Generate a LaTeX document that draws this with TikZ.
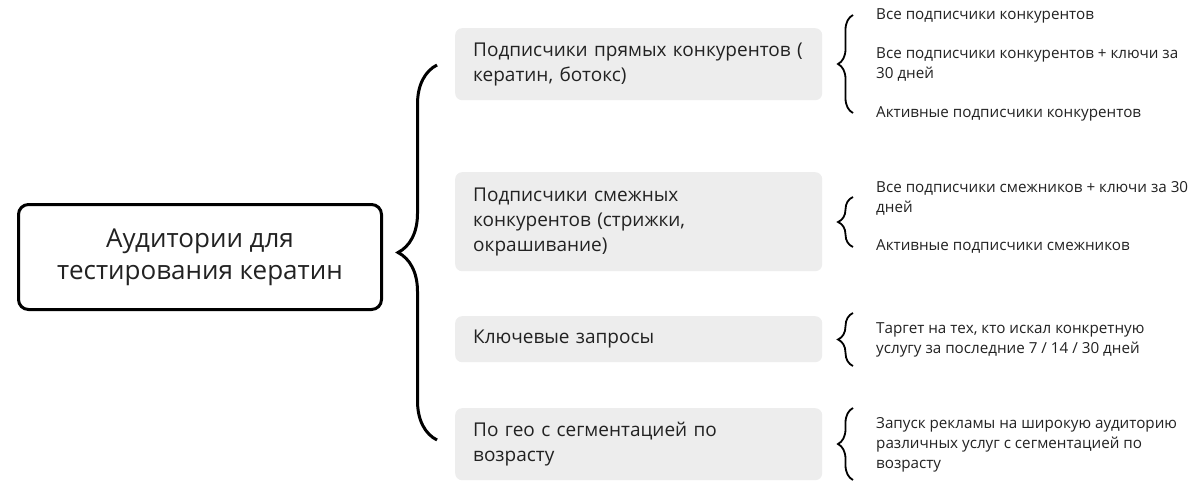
\documentclass[tikz,border=0pt]{standalone}
\usepackage{fontspec}
\setmainfont{Open Sans}
\usepackage{xcolor}
\usetikzlibrary{decorations.pathreplacing,positioning}
\definecolor{boxgray}{HTML}{EDEDED}
\definecolor{txtdark}{HTML}{222222}

\begin{document}
\begin{tikzpicture}[
  x=1pt,y=-1pt,
  main/.style={draw=black,line width=3pt,rounded corners=10pt,minimum width=363pt,minimum height=105pt,align=center,font=\fontsize{26}{32}\selectfont,text=txtdark},
  grp/.style={fill=boxgray,rounded corners=7pt,text width=331pt,inner xsep=18pt,align=left,anchor=north west,font=\fontsize{19}{25}\selectfont,text=txtdark},
  item/.style={anchor=west,align=left,inner sep=0pt,font=\fontsize{15.2}{20}\selectfont,text=txtdark},
  bigbrace/.style={decorate,decoration={brace,amplitude=39pt},line width=3pt},
  smallbrace/.style={decorate,decoration={brace,amplitude=15pt},line width=1.8pt}
]
\useasboundingbox[fill=white] (0,0) rectangle (1200,496);
\node[main] (aud) at (200,257) {Аудитории для\\тестирования кератин};
\node[grp,minimum height=72pt] (pryam) at (455,28) {Подписчики прямых конкурентов (\\кератин, ботокс)};
\node[grp,minimum height=99pt] (smezh) at (455,172) {Подписчики смежных\\конкурентов (стрижки,\\окрашивание)};
\node[grp,minimum height=46pt] (klyuch) at (455,316) {Ключевые запросы};
\node[grp,minimum height=72pt] (geo) at (455,408) {По гео с сегментацией по\\возрасту};
% right-hand lists
\node[item] (pryamA) at (876,16) {Все подписчики конкурентов};
\node[item] (pryamB) at (876,64.5) {Все подписчики конкурентов + ключи за\\30 дней};
\node[item] (pryamC) at (876,114) {Активные подписчики конкурентов};
\node[item] (smezhA) at (876,198) {Все подписчики смежников + ключи за 30\\дней};
\node[item] (smezhB) at (876,246) {Активные подписчики смежников};
\node[item] (klyuchA) at (876,340) {Таргет на тех, кто искал конкретную\\услугу за последние 7 / 14 / 30 дней};
\node[item] (geoA) at (876,445) {Запуск рекламы на широкую аудиторию\\различных услуг с сегментацией по\\возрасту};
% braces
\coordinate (audT) at (437,65);
\coordinate (audB) at (437,440);
\draw[bigbrace] (audB) -- (audT);
\coordinate (pryamT) at (853,15);
\coordinate (pryamB') at (853,113);
\draw[smallbrace] (pryamB') -- (pryamT);
\coordinate (smezhT) at (853,197);
\coordinate (smezhB') at (853,247);
\draw[smallbrace] (smezhB') -- (smezhT);
\coordinate (klyuchT) at (853,313);
\coordinate (klyuchB) at (853,366);
\draw[smallbrace] (klyuchB) -- (klyuchT);
\coordinate (geoT) at (853,408);
\coordinate (geoB) at (853,480);
\draw[smallbrace] (geoB) -- (geoT);
\end{tikzpicture}
\end{document}
